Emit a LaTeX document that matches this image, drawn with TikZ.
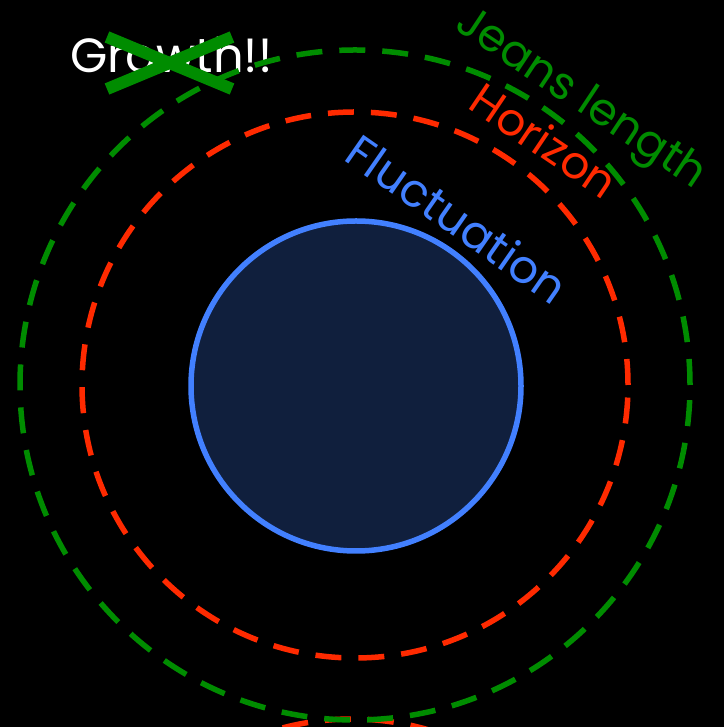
\documentclass[tikz,border=0pt]{standalone}
\usepackage{fontspec}
\setmainfont{Poppins}
\definecolor{jgreen}{RGB}{0,140,0}
\definecolor{hred}{RGB}{255,42,0}
\definecolor{fblue}{RGB}{66,128,255}
\definecolor{fnavy}{RGB}{16,31,61}
\tikzset{
  ring/.style={draw, circle, line width=5.5pt, dash pattern=on 26pt off 17pt, inner sep=0pt},
  tiltlabel/.style={anchor=base, inner sep=0pt, font=\fontsize{#1}{#1}\selectfont},
}
\begin{document}
\begin{tikzpicture}[x=1pt,y=1pt]
\fill[black] (0,0) rectangle (724,727);
\useasboundingbox (0,0) rectangle (724,727);
\coordinate (c) at (355,342);
\coordinate (cb) at (352,-265);
% title
\node[anchor=base west, text=white, font=\fontsize{48}{52}\selectfont, inner sep=0pt] (growth) at (70,654) {Growth!!};
% rings
\begin{scope}
\clip (0,0) rectangle (724,727);
\node[ring, hred, minimum size=546pt] (horizon2) at (cb) {};
\end{scope}
\node[ring, jgreen, minimum size=670pt] (jeans) at (c) {};
\node[ring, hred, minimum size=546pt] (horizon) at (c) {};
\node[circle, draw=fblue, fill=fnavy, line width=5.5pt, minimum size=330pt, inner sep=0pt] (fluct) at (356,341) {};
% tilted labels
\node[tiltlabel=45, text=jgreen, rotate=-33.6] (jeanslabel) at (574,618) {Jeans length};
\node[tiltlabel=45, text=hred, rotate=-34] (horizonlabel) at (535,573) {Horizon};
\node[tiltlabel=46, text=fblue, rotate=-34.8] (fluctlabel) at (448,494) {Fluctuation};
% cross
\coordinate (x1) at (107,690);
\coordinate (x2) at (232,638);
\coordinate (x3) at (107,638);
\coordinate (x4) at (232,690);
\draw[jgreen, line width=12pt] (x1) -- (x2);
\draw[jgreen, line width=12pt] (x3) -- (x4);
\end{tikzpicture}
\end{document}
